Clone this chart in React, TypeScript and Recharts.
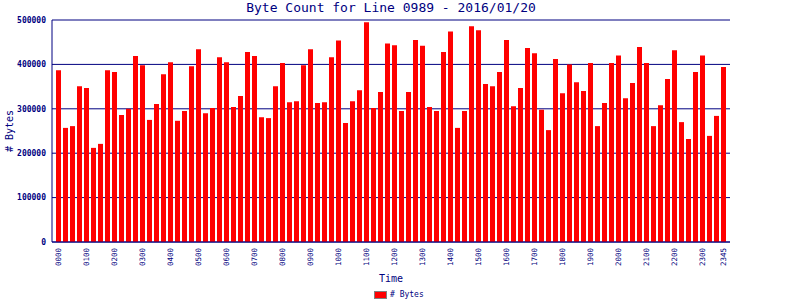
import { Bar, BarChart, CartesianGrid, Legend, XAxis, YAxis } from "recharts";

const NAVY = "#000080";
const MONO = "'DejaVu Sans Mono', monospace";

const times = [
  "0000", "0015", "0030", "0045", "0100", "0115", "0130", "0145",
  "0200", "0215", "0230", "0245", "0300", "0315", "0330", "0345",
  "0400", "0415", "0430", "0445", "0500", "0515", "0530", "0545",
  "0600", "0615", "0630", "0645", "0700", "0715", "0730", "0745",
  "0800", "0815", "0830", "0845", "0900", "0915", "0930", "0945",
  "1000", "1015", "1030", "1045", "1100", "1115", "1130", "1145",
  "1200", "1215", "1230", "1245", "1300", "1315", "1330", "1345",
  "1400", "1415", "1430", "1445", "1500", "1515", "1530", "1545",
  "1600", "1615", "1630", "1645", "1700", "1715", "1730", "1745",
  "1800", "1815", "1830", "1845", "1900", "1915", "1930", "1945",
  "2000", "2015", "2030", "2045", "2100", "2115", "2130", "2145",
  "2200", "2215", "2230", "2245", "2300", "2315", "2330", "2345",
];

const byteCounts = [
  387000, 257000, 261000, 351000, 347000, 212000, 221000, 387000,
  383000, 286000, 300000, 419000, 398000, 275000, 311000, 378000,
  405000, 273000, 295000, 396000, 434000, 290000, 302000, 416000,
  405000, 304000, 329000, 428000, 419000, 281000, 279000, 351000,
  403000, 315000, 317000, 398000, 434000, 313000, 315000, 416000,
  454000, 268000, 317000, 342000, 495000, 302000, 338000, 447000,
  443000, 295000, 338000, 455000, 442000, 304000, 295000, 428000,
  474000, 257000, 295000, 486000, 477000, 356000, 351000, 383000,
  455000, 306000, 347000, 437000, 425000, 298000, 252000, 412000,
  335000, 400000, 360000, 340000, 403000, 261000, 313000, 403000,
  420000, 324000, 358000, 439000, 403000, 261000, 308000, 367000,
  432000, 270000, 232000, 383000, 420000, 239000, 284000, 394000,
];

const shownTimes = [
  "0000", "0100", "0200", "0300", "0400", "0500", "0600", "0700",
  "0800", "0900", "1000", "1100", "1200", "1300", "1400", "1500",
  "1600", "1700", "1800", "1900", "2000", "2100", "2200", "2300", "2345",
];

const yTicks = [0, 100000, 200000, 300000, 400000, 500000];

const data = times.map((t, i) => ({ time: t, bytes: byteCounts[i] }));

function TimeTick({ x, y, payload }: any) {
  if (!shownTimes.includes(payload.value)) return null;
  return (
    <text
      x={x}
      y={y}
      transform={`rotate(-90 ${x} ${y})`}
      textAnchor="end"
      dominantBaseline="central"
      fontFamily={MONO}
      fontSize={7.5}
      fill={NAVY}
    >
      {payload.value}
    </text>
  );
}

export default function App() {
  return (
    <div style={{ position: "absolute", left: 0, top: 0, width: 800, height: 300, background: "#fff" }}>
      <div
        style={{
          position: "absolute",
          left: 52,
          top: 0,
          width: 678,
          textAlign: "center",
          fontFamily: MONO,
          fontSize: 13,
          lineHeight: "16px",
          color: NAVY,
        }}
      >
        Byte Count for Line 0989 - 2016/01/20
      </div>
      <BarChart
        width={800}
        height={300}
        data={data}
        margin={{ top: 20, right: 70, left: 0, bottom: 0 }}
        barCategoryGap={1}
      >
        <CartesianGrid vertical={false} stroke={NAVY} strokeWidth={1} />
        <XAxis
          dataKey="time"
          interval={0}
          height={58}
          padding={{ left: 3, right: 3 }}
          axisLine={{ stroke: NAVY }}
          tickLine={false}
          tickSize={4}
          tickMargin={2}
          tick={<TimeTick />}
          label={{
            content: ({ viewBox }: any) => (
              <text
                x={viewBox.x + viewBox.width / 2}
                y={viewBox.y + 36}
                textAnchor="middle"
                dominantBaseline="central"
                fontFamily={MONO}
                fontSize={10}
                fill={NAVY}
              >
                Time
              </text>
            ),
          }}
        />
        <YAxis
          width={52}
          domain={[0, 500000]}
          ticks={yTicks}
          interval={0}
          axisLine={{ stroke: NAVY }}
          tickLine={false}
          tickSize={4}
          tickMargin={2}
          tick={{ fill: NAVY, fontFamily: MONO, fontSize: 8, fontWeight: "bold" }}
          label={{
            content: ({ viewBox }: any) => {
              const cx = 9;
              const cy = viewBox.y + viewBox.height / 2;
              return (
                <text
                  x={cx}
                  y={cy}
                  transform={`rotate(-90 ${cx} ${cy})`}
                  textAnchor="middle"
                  dominantBaseline="central"
                  fontFamily={MONO}
                  fontSize={10}
                  fill={NAVY}
                >
                  # Bytes
                </text>
              );
            },
          }}
        />
        <YAxis
          yAxisId="right"
          orientation="right"
          width={0}
          domain={[0, 500000]}
          tick={false}
          tickLine={false}
          axisLine={{ stroke: NAVY }}
        />
        <Legend
          verticalAlign="middle"
          align="center"
          wrapperStyle={{ top: 290, left: 374, width: 80, height: 10 }}
          content={() => (
            <div style={{ display: "flex", alignItems: "center", height: 10 }}>
              <span
                style={{
                  display: "inline-block",
                  width: 11,
                  height: 6,
                  background: "#ff0000",
                  border: "1px solid #808080",
                }}
              />
              <span
                style={{
                  marginLeft: 3,
                  fontFamily: MONO,
                  fontSize: 8,
                  color: NAVY,
                  lineHeight: "10px",
                }}
              >
                # Bytes
              </span>
            </div>
          )}
        />
        <Bar dataKey="bytes" name="# Bytes" fill="#ff0000" isAnimationActive={false} />
      </BarChart>
    </div>
  );
}
